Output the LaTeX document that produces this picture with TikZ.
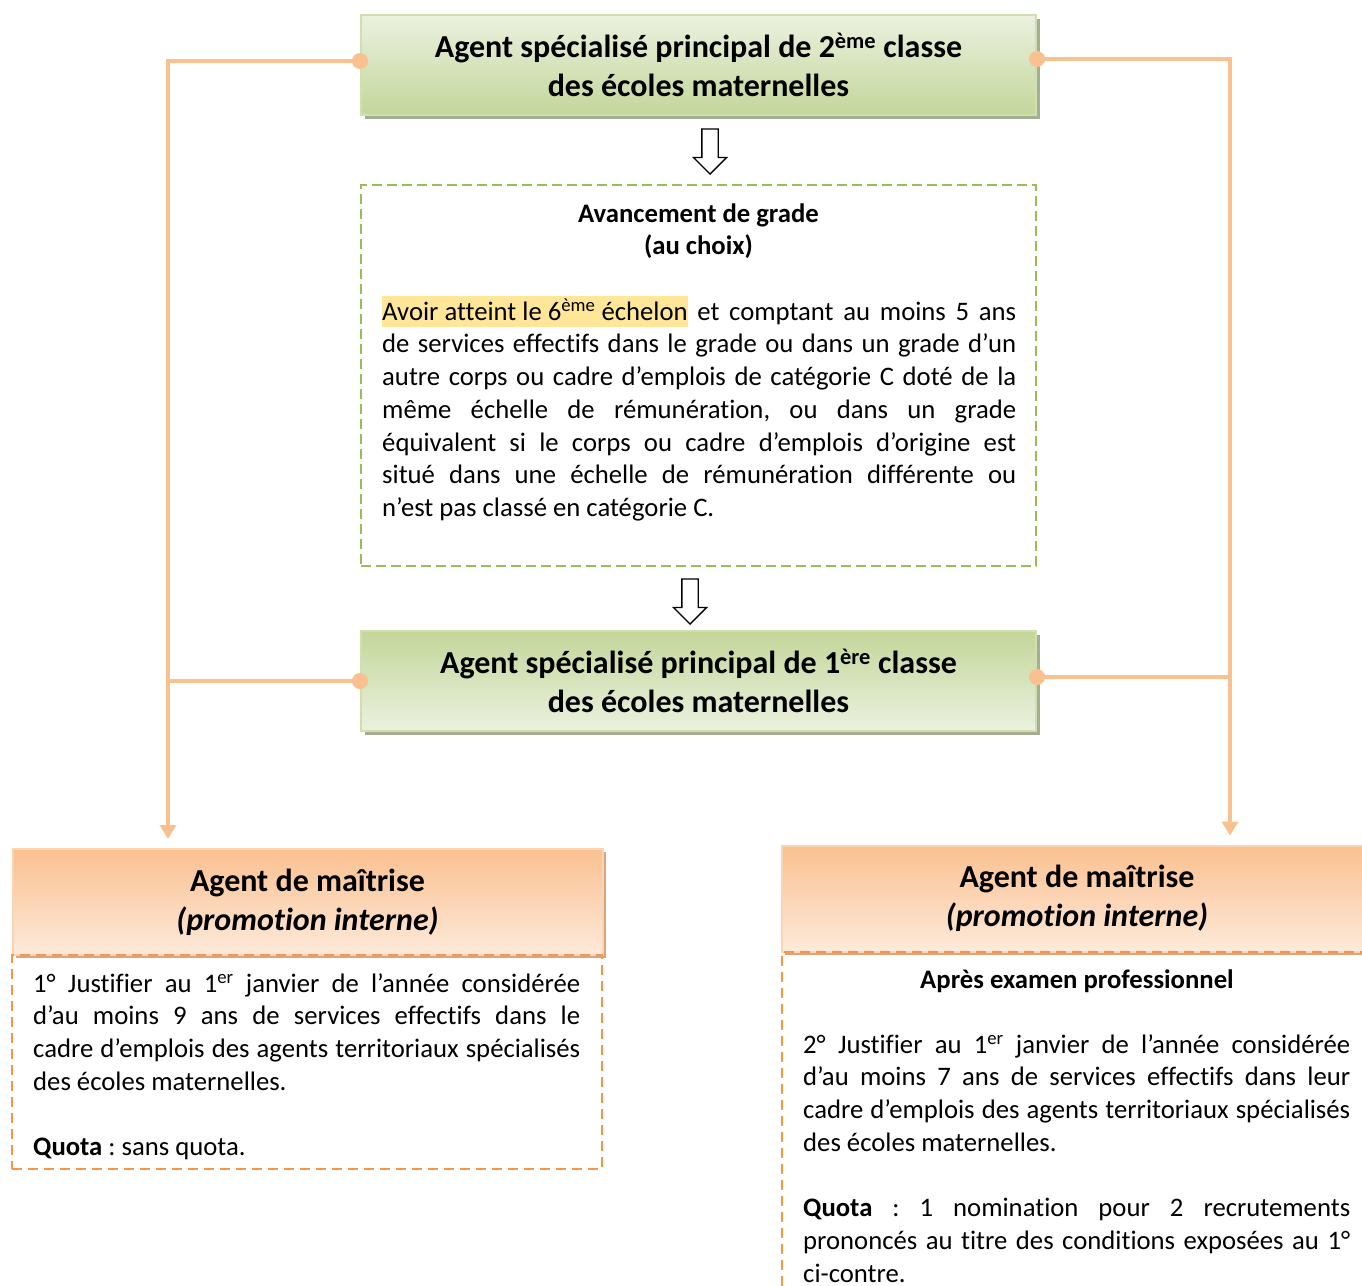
\documentclass[tikz,border=0pt]{standalone}
\usepackage{fontspec}
\setmainfont{Carlito}[Ligatures=CommonOff]
\usetikzlibrary{arrows.meta,shapes.arrows,shadows,positioning}
\setlength{\parindent}{0pt}
\frenchspacing

\definecolor{gLight}{HTML}{EBF1DE}
\definecolor{gDark}{HTML}{C3D69B}
\definecolor{gEdge}{HTML}{CFDFAE}
\definecolor{gShadow}{HTML}{A6AE91}
\definecolor{gDash}{HTML}{9BBB59}
\definecolor{oLight}{HTML}{FDEADA}
\definecolor{oDark}{HTML}{FAC090}
\definecolor{oEdge}{HTML}{FBD4B4}
\definecolor{oDash}{HTML}{F79646}
\definecolor{oShadow}{HTML}{D9A57E}
\definecolor{hiYellow}{HTML}{FFE699}

\newcommand{\titlesize}{\fontsize{32}{39}\selectfont\bfseries}
\newcommand{\bodysize}{\fontsize{26.7}{32.7}\selectfont}
\newcommand{\topstrut}{\rule{0pt}{25pt}}

\tikzstyle{chart_style}=[x=1pt,y=-1pt,
  gradebox/.style={rectangle,draw=gEdge,line width=2pt,minimum width=675,minimum height=100,align=center,font=\titlesize,
    drop shadow={shadow xshift=4pt,shadow yshift=-4pt,fill=gShadow,opacity=1}},
  promobox/.style={rectangle,draw=oEdge,line width=2pt,minimum width=590,minimum height=106,align=center,font=\titlesize,
    top color=oDark,bottom color=oLight,
    drop shadow={shadow xshift=3pt,shadow yshift=-3pt,fill=oShadow,opacity=1}},
  condbox/.style={rectangle,draw=gDash,line width=2.5pt,dash pattern=on 10pt off 5pt,minimum width=675,minimum height=381},
  rulebox/.style={rectangle,draw=oDash,line width=2.5pt,dash pattern=on 10pt off 6pt,minimum width=590},
  headtext/.style={inner sep=0pt,align=center,font=\bodysize\bfseries},
  bodytext/.style={inner sep=0pt,align=justify,font=\bodysize},
  downarrow/.style={single arrow,draw=black,fill=white,line width=1.3pt,shape border rotate=270,
    inner sep=7.5pt,minimum height=45,single arrow head extend=8.5pt},
  conn/.style={draw=oDark,line width=4pt},
  dotarrow/.style={conn,{Circle[length=16pt,width=16pt]}-{Triangle[length=14pt,width=16pt]},shorten <=-8pt,shorten >=9pt},
  dotline/.style={conn,{Circle[length=16pt,width=16pt]}-,shorten <=-8pt}]

\begin{document}
\begin{tikzpicture}[chart_style]
    \useasboundingbox (0,0) rectangle (1362,1285);
    \clip (0,0) rectangle (1362,1285);

    % Draw the two grade boxes
    \node[gradebox, top color=gLight, bottom color=gDark] (G-1) at (698.5,65)
        {Agent spécialisé principal de 2\textsuperscript{ème} classe\\des écoles maternelles};
    \node[gradebox, top color=gDark, bottom color=gLight] (G-2) at (698.5,681)
        {Agent spécialisé principal de 1\textsuperscript{ère} classe\\des écoles maternelles};

    % Draw the advancement conditions between them
    \node[condbox] (adv) at (698.5,375.5) {};
    \node[headtext, anchor=north] (adv-head) at (698.5,197)
        {\topstrut Avancement de grade\\(au choix)};
    \node[bodytext, text width=634, anchor=north west] (adv-text) at (382,295)
        {\topstrut{\setlength{\fboxsep}{0pt}\colorbox{hiYellow}{\rule[-6.5pt]{0pt}{31pt}Avoir atteint le 6\textsuperscript{ème} échelon}} et comptant au moins 5 ans\linebreak
         de services effectifs dans le grade ou dans un grade d’un\linebreak
         autre corps ou cadre d’emplois de catégorie C doté de la\linebreak
         même échelle de rémunération, ou dans un grade\linebreak
         équivalent si le corps ou cadre d’emplois d’origine est\linebreak
         situé dans une échelle de rémunération différente ou\linebreak
         n’est pas classé en catégorie C.};

    % Draw the open arrows
    \node[downarrow] (arr-1) at (710,147.5) {};
    \node[downarrow] (arr-2) at (690,597.5) {};

    % Draw the two promotion boxes
    \node[promobox] (P-1) at (307.5,902)
        {Agent de maîtrise\\\textit{(promotion interne)}};
    \node[promobox] (P-2) at (1077,898.5)
        {Agent de maîtrise\\\textit{(promotion interne)}};
    \node[rulebox, minimum height=214] (R-1) at (307,1062) {};
    \node[rulebox, minimum height=368] (R-2) at (1077,1136) {};

    % Conditions of the promotion boxes
    \node[bodytext, text width=547, anchor=north west] (R-1-text) at (33,967)
        {\topstrut 1° Justifier au 1\textsuperscript{er} janvier de l’année considérée\linebreak
         d’au moins 9 ans de services effectifs dans le\linebreak
         cadre d’emplois des agents territoriaux spécialisés\linebreak
         des écoles maternelles.\par
         \mbox{}\par
         \textbf{Quota} : sans quota.};
    \node[headtext, anchor=north] (R-2-head) at (1077,963)
        {\topstrut Après examen professionnel};
    \node[bodytext, text width=547, anchor=north west] (R-2-text) at (803,1028)
        {\topstrut 2° Justifier au 1\textsuperscript{er} janvier de l’année considérée\linebreak
         d’au moins 7 ans de services effectifs dans leur\linebreak
         cadre d’emplois des agents territoriaux spécialisés\linebreak
         des écoles maternelles.\par
         \mbox{}\par
         \textbf{Quota} : 1 nomination pour 2 recrutements\linebreak
         prononcés au titre des conditions exposées au 1°\linebreak
         ci-contre.};

    % Connect the grade boxes with the promotion boxes
    \coordinate (left-col) at (168,0);
    \coordinate (right-col) at (1230,0);
    \draw[dotarrow] ([yshift=4pt]G-1.west) -| (left-col |- P-1.north);
    \draw[dotarrow] ([yshift=6pt]G-1.east) -| (right-col |- P-2.north);
    \draw[dotline] (G-2.west) -- (G-2.west -| left-col);
    \draw[dotline] ([yshift=4pt]G-2.east) -- ([yshift=4pt]G-2.east -| right-col);

\end{tikzpicture}
\end{document}
